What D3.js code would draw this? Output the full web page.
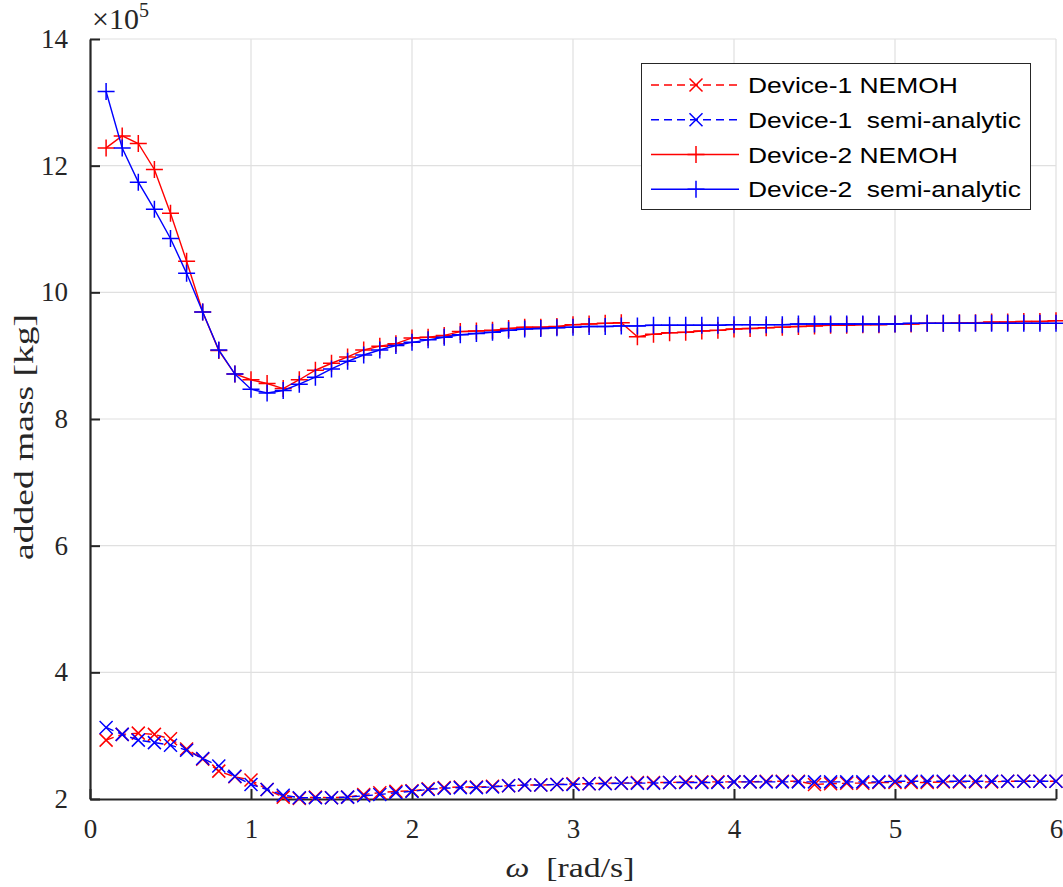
<!DOCTYPE html>
<html>
<head>
<meta charset="utf-8">
<script src="https://cdn.jsdelivr.net/npm/d3@7"></script>
<style>
  html, body { margin: 0; padding: 0; background: #fff; }
  svg { display: block; }
</style>
</head>
<body>
<svg id="chart" width="1063" height="887"></svg>
<script>
// ---- data (values in units of 1e5 kg) ----
const omega = d3.range(1, 61).map(i => i / 10); // 0.1 .. 6.0 rad/s
const device1Nemoh = [2.93,3.02,3.04,3.02,2.95,2.79,2.63,2.44,2.35,2.30,
  2.15,2.03,2.01,2.03,2.02,2.03,2.07,2.10,2.12,2.13,
  2.16,2.18,2.19,2.19,2.20,2.21,2.22,2.22,2.23,2.24,
  2.24,2.25,2.25,2.26,2.26,2.26,2.27,2.27,2.27,2.27,
  2.27,2.28,2.28,2.28,2.23,2.24,2.25,2.25,2.26,2.26,
  2.26,2.26,2.27,2.27,2.27,2.27,2.28,2.28,2.28,2.28];
const device1Semi = [3.13,3.02,2.93,2.89,2.85,2.77,2.64,2.52,2.36,2.23,
  2.15,2.06,2.02,2.02,2.02,2.03,2.05,2.07,2.10,2.12,
  2.15,2.17,2.18,2.18,2.19,2.21,2.22,2.22,2.23,2.23,
  2.24,2.24,2.25,2.25,2.25,2.26,2.26,2.26,2.26,2.27,
  2.27,2.27,2.27,2.27,2.27,2.27,2.27,2.27,2.27,2.28,
  2.28,2.28,2.28,2.28,2.28,2.28,2.28,2.28,2.28,2.28];
const device2Nemoh = [12.28,12.47,12.35,11.94,11.25,10.49,9.69,9.08,8.71,8.62,
  8.56,8.48,8.62,8.77,8.88,8.98,9.09,9.15,9.19,9.28,
  9.29,9.32,9.38,9.39,9.40,9.43,9.45,9.45,9.46,9.49,
  9.50,9.51,9.52,9.30,9.34,9.36,9.37,9.39,9.40,9.42,
  9.43,9.44,9.45,9.46,9.47,9.48,9.48,9.49,9.49,9.50,
  9.50,9.51,9.51,9.52,9.52,9.53,9.53,9.54,9.54,9.55];
const device2Semi = [13.17,12.28,11.74,11.31,10.85,10.30,9.69,9.09,8.71,8.47,
  8.41,8.45,8.55,8.66,8.79,8.91,9.01,9.09,9.16,9.21,
  9.25,9.29,9.33,9.35,9.37,9.40,9.42,9.43,9.44,9.45,
  9.46,9.46,9.47,9.47,9.48,9.48,9.48,9.48,9.48,9.49,
  9.49,9.49,9.49,9.50,9.50,9.50,9.50,9.50,9.50,9.50,
  9.51,9.51,9.51,9.51,9.51,9.51,9.51,9.51,9.51,9.51];
const xTicks = [0, 1, 2, 3, 4, 5, 6];
const yTicks = [2, 4, 6, 8, 10, 12, 14];
const seriesNames = ["Device-1 NEMOH", "Device-1  semi-analytic", "Device-2 NEMOH", "Device-2  semi-analytic"];
const seriesColors = ["#ff0000", "#0000ff", "#ff0000", "#0000ff"];
const seriesMarkers = ["x", "x", "+", "+"];
const seriesDashed = [true, true, false, false];
const seriesValues = [device1Nemoh, device1Semi, device2Nemoh, device2Semi];

// ---- layout ----
const svg = d3.select("#chart");
const L = 90, R = 1056, T = 39, B = 799;
const x = d3.scaleLinear().domain([0, 6]).range([L, R]);
const y = d3.scaleLinear().domain([2, 14]).range([B, T]);
const axisColor = "#262626";
const serif = "'Liberation Serif', 'Times New Roman', serif";
const dash = "8,5";

// grid
const grid = svg.append("g");
grid.selectAll("line.gx").data(xTicks.slice(1)).join("line")
  .attr("x1", d => x(d)).attr("x2", d => x(d)).attr("y1", T).attr("y2", B)
  .attr("stroke", "#e0e0e0").attr("stroke-width", 1.2);
grid.selectAll("line.gy").data(yTicks.slice(1)).join("line")
  .attr("x1", L).attr("x2", R).attr("y1", d => y(d)).attr("y2", d => y(d))
  .attr("stroke", "#e0e0e0").attr("stroke-width", 1.2);

// axes
const xAxis = d3.axisBottom(x).tickValues(xTicks).tickSizeInner(-10).tickSizeOuter(0).tickPadding(20).tickFormat(d3.format("d"));
const yAxis = d3.axisLeft(y).tickValues(yTicks).tickSizeInner(-10).tickSizeOuter(0).tickPadding(22).tickFormat(d3.format("d"));
const gx = svg.append("g").attr("transform", `translate(0,${B})`).call(xAxis);
const gy = svg.append("g").attr("transform", `translate(${L},0)`).call(yAxis);
[gx, gy].forEach(g => {
  g.select(".domain").attr("stroke", axisColor).attr("stroke-width", 2.2);
  g.selectAll(".tick line").attr("stroke", axisColor).attr("stroke-width", 2);
  g.selectAll(".tick text").attr("fill", axisColor).attr("font-family", serif).attr("font-size", 27);
});
gx.selectAll(".tick text").attr("dy", "0.71em");

// series
const plot = svg.append("g");
const line = d3.line().x(d => x(d[0])).y(d => y(d[1]));

function drawMarker(g, type, cx, cy, color) {
  if (type === "+") {
    const h = 8.5;
    g.append("path").attr("d", `M${cx - h},${cy}H${cx + h}M${cx},${cy - h}V${cy + h}`)
      .attr("stroke", color).attr("stroke-width", 1.5).attr("fill", "none");
  } else {
    const h = 6.5;
    g.append("path").attr("d", `M${cx - h},${cy - h}L${cx + h},${cy + h}M${cx - h},${cy + h}L${cx + h},${cy - h}`)
      .attr("stroke", color).attr("stroke-width", 1.5).attr("fill", "none");
  }
}

seriesValues.forEach((vals, i) => {
  const pts = omega.map((w, k) => [w, vals[k]]);
  const g = plot.append("g");
  g.append("path").datum(pts).attr("d", line)
    .attr("fill", "none").attr("stroke", seriesColors[i]).attr("stroke-width", 1.4)
    .attr("stroke-dasharray", seriesDashed[i] ? dash : null);
  pts.forEach(p => drawMarker(g, seriesMarkers[i], x(p[0]), y(p[1]), seriesColors[i]));
});

// exponent label
const ex = svg.append("text").attr("x", 92).attr("y", 29).attr("fill", axisColor)
  .attr("font-family", serif).style("font-size", "30px");
ex.append("tspan").text("×10");
ex.append("tspan").style("font-size", "20px").attr("dy", -12).text("5");

// axis labels
function stretch(sel, f) {
  const n = sel.node();
  const len = n.getComputedTextLength();
  sel.attr("textLength", len * f).attr("lengthAdjust", "spacingAndGlyphs");
}
const xl = svg.append("text").attr("x", (L + R) / 2 - 3).attr("y", 877).attr("text-anchor", "middle")
  .attr("fill", axisColor).attr("font-family", serif).attr("font-size", 27).style("white-space", "pre");
xl.append("tspan").attr("font-style", "italic").text("ω");
xl.append("tspan").text("  [rad/s]");
stretch(xl, 1.25);

const yl = svg.append("text").attr("transform", `translate(33,437) rotate(-90)`)
  .attr("text-anchor", "middle").attr("fill", axisColor).attr("font-family", serif).attr("font-size", 27)
  .style("white-space", "pre").text("added mass [kg]");
stretch(yl, 1.39);

// legend
const lg = svg.append("g");
lg.append("rect").attr("x", 641.5).attr("y", 63.5).attr("width", 389).attr("height", 146)
  .attr("fill", "#fff").attr("stroke", axisColor).attr("stroke-width", 1);
const rowY = d3.scalePoint().domain(d3.range(4)).range([85, 189.3]);
seriesNames.forEach((name, i) => {
  const cy = rowY(i);
  lg.append("line").attr("x1", 651).attr("x2", 739).attr("y1", cy).attr("y2", cy)
    .attr("stroke", seriesColors[i]).attr("stroke-width", 1.4)
    .attr("stroke-dasharray", seriesDashed[i] ? dash : null);
  drawMarker(lg, seriesMarkers[i], 696, cy, seriesColors[i]);
  const t = lg.append("text").attr("x", 748).attr("y", cy + 8).attr("fill", "#000")
    .attr("font-family", "'Liberation Sans', Arial, sans-serif").attr("font-size", 22)
    .style("white-space", "pre").text(name);
  stretch(t, 1.2);
});
</script>
</body>
</html>
